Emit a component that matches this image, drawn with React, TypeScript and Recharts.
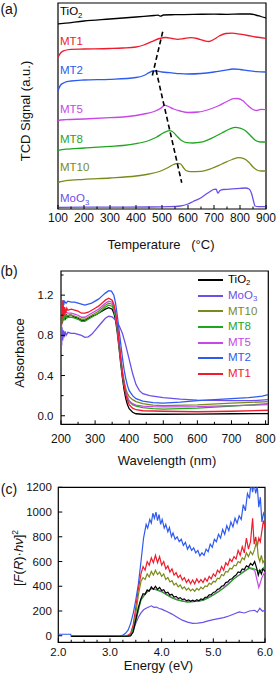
import React from "react";
import { LineChart, Line, XAxis, YAxis, ReferenceArea, ReferenceLine } from "recharts";

type Pt = [number, number];

const FONT = '"Liberation Sans", Arial, Helvetica, sans-serif';

const colors: Record<string, string> = {
  TiO2: "#000000",
  MoO3: "#6d4fe8",
  MT10: "#7b8a1c",
  MT8: "#1fa61f",
  MT5: "#c847e6",
  MT2: "#2e5af0",
  MT1: "#ef1b2d",
};

// ---- (a) TPR ----
const tprTicks = [100, 150, 200, 250, 300, 350, 400, 450, 500, 550, 600, 650, 700, 750, 800, 850, 900];
const tprLabels = [100, 200, 300, 400, 500, 600, 700, 800, 900];

const tprTiO2: Pt[] = [[100, 185], [130, 185.8], [200, 188], [300, 190], [400, 192], [470, 193.5], [485, 193.8], [495, 192.8], [505, 194], [550, 194.3], [620, 194.7], [700, 194.8], [750, 194.7], [800, 195], [840, 195], [860, 194], [880, 192.5], [900, 191]];
const tprMT1: Pt[] = [[100, 151.5], [110, 156], [125, 158.5], [150, 159.7], [200, 160], [300, 160.5], [350, 161], [400, 162], [430, 164], [460, 167.3], [490, 170.5], [515, 171.5], [540, 170.5], [560, 169.7], [585, 170.5], [610, 171.3], [635, 170.5], [660, 168.5], [680, 167.5], [700, 169.7], [720, 173], [745, 175.5], [770, 175.8], [800, 174.8], [830, 173.5], [860, 172], [900, 170.7]];
const tprMT2: Pt[] = [[100, 118.3], [110, 124], [125, 126.5], [150, 128], [200, 129], [300, 129.7], [400, 131.5], [430, 133.5], [450, 136.3], [465, 138], [480, 138], [500, 137], [530, 136.3], [570, 135.3], [600, 135], [650, 135.5], [700, 137], [740, 138.7], [775, 140], [800, 139.5], [830, 138.3], [865, 137.3], [900, 137]];
const tprMT5: Pt[] = [[100, 88], [110, 89], [130, 89.3], [200, 90], [300, 91.3], [350, 92], [400, 93.5], [440, 95.5], [470, 97.5], [495, 100.7], [510, 103.8], [520, 103], [545, 100], [570, 98], [600, 96.5], [640, 97], [680, 99.5], [715, 103], [750, 107.5], [775, 110.3], [790, 110.5], [810, 108.5], [830, 103.5], [850, 99.5], [865, 98.5], [880, 99.7], [900, 99.3]];
const tprMT8: Pt[] = [[100, 58.3], [110, 59.2], [130, 59.8], [200, 61], [300, 62.7], [350, 63.5], [400, 65.3], [450, 68.5], [480, 72], [505, 76], [528, 78.3], [540, 77.5], [555, 73.5], [575, 68.5], [595, 66.3], [620, 66], [650, 66.8], [690, 70.7], [730, 76], [760, 80], [782, 81.7], [800, 80.8], [820, 78.5], [840, 73.5], [860, 68.5], [880, 67], [900, 67]];
const tprMT10: Pt[] = [[100, 26.3], [110, 27.3], [130, 28.3], [200, 29.7], [300, 31], [400, 33], [450, 35], [490, 37.5], [520, 41], [545, 44.5], [560, 45.7], [572, 45], [582, 41.5], [592, 38.5], [610, 37.3], [650, 37.7], [690, 40.5], [730, 45], [770, 49.5], [795, 51.3], [815, 50.3], [835, 46.5], [850, 42], [865, 39], [880, 38], [900, 38]];
const tprMoO3: Pt[] = [[100, 1.7], [300, 1.9], [450, 2], [530, 2.3], [570, 3], [600, 5], [620, 7.5], [645, 10.5], [665, 14], [685, 17.5], [700, 19.7], [708, 19.8], [715, 15.8], [722, 18.2], [735, 19.5], [760, 19.8], [800, 20.6], [820, 21], [835, 20], [845, 15], [852, 8], [858, 3], [870, 2.3], [900, 2.3]];
const tprDashA: Pt[] = [[502.7, 177.3], [460.4, 130.7]];
const tprDashB: Pt[] = [[476.9, 139], [575.8, 26.3]];

// ---- (b) UV-vis ----
const wlTicks = [200, 250, 300, 350, 400, 450, 500, 550, 600, 650, 700, 750, 800];
const wlLabels = [200, 300, 400, 500, 600, 700, 800];
const absTicks = [0, 0.2, 0.4, 0.6, 0.8, 1.0, 1.2, 1.4];
const absLabels = [0, 0.4, 0.8, 1.2];

const wlTiO2: Pt[] = [[200, 0.88], [202, 1.05], [204, 0.92], [206, 1.0], [208, 0.95], [210, 1.02], [213, 0.97], [216, 1.0], [220, 0.98], [225, 1.0], [230, 1.0], [240, 0.98], [250, 0.97], [260, 0.95], [270, 0.95], [280, 0.97], [290, 0.99], [300, 1.0], [310, 1.02], [320, 1.04], [330, 1.06], [340, 1.075], [350, 1.06], [355, 1.02], [360, 0.95], [365, 0.83], [370, 0.68], [375, 0.52], [380, 0.38], [385, 0.26], [390, 0.17], [395, 0.11], [400, 0.07], [410, 0.035], [420, 0.02], [440, 0.015], [500, 0.015], [600, 0.017], [700, 0.02], [808, 0.022]];
const wlMoO3: Pt[] = [[200, 0.62], [201, 0.95], [202, 0.7], [203, 0.88], [205, 0.75], [207, 0.85], [209, 0.78], [212, 0.84], [215, 0.8], [220, 0.83], [230, 0.82], [240, 0.82], [250, 0.81], [260, 0.8], [270, 0.78], [280, 0.785], [290, 0.81], [300, 0.85], [310, 0.89], [320, 0.93], [330, 0.97], [340, 0.99], [350, 0.985], [360, 0.95], [370, 0.9], [380, 0.82], [390, 0.7], [400, 0.56], [410, 0.42], [420, 0.31], [430, 0.25], [440, 0.22], [460, 0.2], [500, 0.18], [550, 0.165], [600, 0.155], [700, 0.15], [760, 0.15], [808, 0.16]];
const wlMT10: Pt[] = [[200, 0.9], [202, 1.08], [204, 0.95], [206, 1.05], [209, 0.97], [212, 1.02], [216, 0.99], [220, 1.0], [230, 1.0], [240, 0.99], [250, 0.98], [260, 0.96], [270, 0.96], [280, 0.98], [290, 1.0], [300, 1.02], [310, 1.04], [320, 1.07], [330, 1.1], [340, 1.12], [350, 1.11], [355, 1.07], [360, 1.0], [365, 0.88], [370, 0.73], [375, 0.58], [380, 0.45], [385, 0.35], [390, 0.27], [395, 0.22], [400, 0.19], [410, 0.16], [420, 0.14], [440, 0.12], [470, 0.105], [500, 0.1], [600, 0.108], [700, 0.125], [808, 0.14]];
const wlMT8: Pt[] = [[200, 0.85], [202, 1.12], [204, 0.92], [206, 1.02], [209, 0.95], [212, 1.0], [216, 0.97], [220, 0.98], [230, 0.98], [240, 0.97], [250, 0.96], [260, 0.94], [270, 0.94], [280, 0.96], [290, 0.98], [300, 1.0], [310, 1.02], [320, 1.05], [330, 1.08], [340, 1.1], [350, 1.09], [355, 1.05], [360, 0.98], [365, 0.86], [370, 0.71], [375, 0.55], [380, 0.41], [385, 0.3], [390, 0.22], [395, 0.17], [400, 0.14], [410, 0.11], [420, 0.095], [440, 0.08], [470, 0.07], [500, 0.065], [600, 0.075], [700, 0.095], [808, 0.12]];
const wlMT5: Pt[] = [[200, 0.92], [202, 1.05], [205, 0.98], [208, 1.04], [212, 1.01], [216, 1.03], [220, 1.02], [230, 1.02], [240, 1.01], [250, 1.0], [260, 0.98], [270, 0.98], [280, 1.0], [290, 1.02], [300, 1.04], [310, 1.06], [320, 1.09], [330, 1.12], [340, 1.14], [350, 1.13], [355, 1.09], [360, 1.01], [365, 0.89], [370, 0.73], [375, 0.57], [380, 0.43], [385, 0.32], [390, 0.24], [395, 0.19], [400, 0.15], [410, 0.12], [420, 0.105], [440, 0.095], [470, 0.09], [500, 0.088], [600, 0.09], [700, 0.1], [808, 0.11]];
const wlMT2: Pt[] = [[200, 1.0], [202, 1.12], [204, 1.05], [206, 1.15], [208, 1.1], [210, 1.14], [215, 1.12], [220, 1.14], [230, 1.13], [240, 1.13], [250, 1.12], [260, 1.11], [270, 1.1], [280, 1.11], [290, 1.12], [300, 1.14], [310, 1.16], [320, 1.19], [330, 1.22], [340, 1.245], [348, 1.24], [355, 1.2], [360, 1.12], [365, 1.0], [370, 0.86], [375, 0.72], [380, 0.58], [385, 0.46], [390, 0.37], [395, 0.3], [400, 0.25], [410, 0.2], [420, 0.17], [440, 0.145], [470, 0.13], [500, 0.125], [550, 0.135], [600, 0.15], [650, 0.16], [700, 0.17], [750, 0.18], [790, 0.195], [808, 0.21]];
const wlMT1: Pt[] = [[200, 0.95], [201, 1.2], [202, 0.9], [203, 1.15], [205, 0.98], [207, 1.1], [209, 1.0], [211, 1.08], [214, 1.02], [217, 1.07], [220, 1.05], [230, 1.06], [240, 1.05], [250, 1.04], [260, 1.02], [270, 1.02], [280, 1.03], [290, 1.05], [300, 1.07], [310, 1.09], [320, 1.12], [330, 1.15], [340, 1.17], [350, 1.15], [355, 1.11], [360, 1.03], [365, 0.9], [370, 0.74], [375, 0.58], [380, 0.43], [385, 0.31], [390, 0.21], [395, 0.15], [400, 0.11], [410, 0.075], [420, 0.06], [440, 0.05], [500, 0.045], [600, 0.04], [700, 0.045], [808, 0.055]];

// ---- (c) Tauc ----
const eTicks = [2, 2.25, 2.5, 2.75, 3, 3.25, 3.5, 3.75, 4, 4.25, 4.5, 4.75, 5, 5.25, 5.5, 5.75, 6];
const eLabels = [2, 3, 4, 5, 6];
const kmTicks = [0, 200, 400, 600, 800, 1000, 1200];

const kmMT2: Pt[] = [[2, 12], [2.24, 12], [2.25, -5], [3, -5], [3.2, -3], [3.25, 5], [3.3, 20], [3.35, 45], [3.4, 100], [3.45, 180], [3.5, 290], [3.55, 420], [3.6, 600], [3.65, 790], [3.7, 900], [3.73, 870], [3.77, 940], [3.8, 910], [3.83, 990], [3.86, 950], [3.89, 1000], [3.92, 930], [3.95, 980], [3.98, 900], [4.01, 940], [4.05, 870], [4.08, 900], [4.12, 840], [4.15, 875], [4.19, 800], [4.22, 830], [4.26, 780], [4.3, 800], [4.34, 760], [4.38, 780], [4.42, 730], [4.46, 755], [4.5, 700], [4.54, 730], [4.58, 690], [4.62, 710], [4.66, 670], [4.7, 690], [4.74, 645], [4.78, 670], [4.82, 650], [4.86, 700], [4.9, 680], [4.94, 740], [4.98, 715], [5.02, 780], [5.06, 760], [5.1, 820], [5.14, 790], [5.18, 860], [5.22, 820], [5.26, 890], [5.3, 850], [5.34, 920], [5.38, 880], [5.42, 950], [5.46, 910], [5.5, 970], [5.54, 940], [5.58, 1060], [5.62, 1010], [5.66, 1150], [5.7, 1110], [5.73, 1240], [5.76, 1160], [5.79, 1230], [5.82, 1150], [5.85, 1210], [5.88, 1040], [5.91, 1120], [5.94, 920], [5.97, 990], [6, 960]];
const kmMT1: Pt[] = [[2.25, -5], [3, -5], [3.3, -3], [3.35, 5], [3.4, 20], [3.45, 90], [3.5, 230], [3.55, 380], [3.6, 500], [3.64, 560], [3.68, 530], [3.72, 600], [3.76, 570], [3.8, 630], [3.84, 590], [3.88, 650], [3.92, 590], [3.96, 640], [4.0, 570], [4.04, 600], [4.08, 540], [4.12, 565], [4.16, 515], [4.2, 540], [4.24, 490], [4.28, 510], [4.32, 470], [4.36, 490], [4.4, 450], [4.44, 470], [4.48, 430], [4.52, 455], [4.56, 420], [4.6, 450], [4.64, 420], [4.68, 460], [4.72, 430], [4.76, 455], [4.8, 430], [4.84, 465], [4.88, 440], [4.92, 480], [4.96, 460], [5.0, 500], [5.04, 480], [5.08, 530], [5.12, 510], [5.16, 560], [5.2, 530], [5.24, 590], [5.28, 570], [5.32, 620], [5.36, 600], [5.4, 640], [5.44, 620], [5.48, 690], [5.52, 650], [5.56, 720], [5.6, 670], [5.64, 790], [5.68, 700], [5.72, 760], [5.76, 950], [5.79, 740], [5.82, 800], [5.85, 720], [5.88, 790], [5.91, 760], [5.94, 850], [5.97, 930], [6, 880]];
const kmMT10: Pt[] = [[2.25, -5], [3, -5], [3.35, -3], [3.4, 5], [3.45, 50], [3.5, 180], [3.55, 330], [3.6, 440], [3.64, 470], [3.68, 455], [3.72, 500], [3.76, 475], [3.8, 520], [3.84, 490], [3.88, 530], [3.92, 495], [3.96, 515], [4.0, 480], [4.04, 500], [4.08, 455], [4.12, 470], [4.16, 435], [4.2, 445], [4.24, 410], [4.28, 425], [4.32, 395], [4.36, 410], [4.4, 380], [4.44, 395], [4.48, 370], [4.52, 385], [4.56, 362], [4.6, 378], [4.64, 360], [4.68, 382], [4.72, 368], [4.76, 392], [4.8, 378], [4.84, 402], [4.88, 398], [4.92, 425], [4.96, 415], [5.0, 440], [5.04, 435], [5.08, 465], [5.12, 460], [5.16, 495], [5.2, 485], [5.24, 520], [5.28, 515], [5.32, 545], [5.36, 540], [5.4, 570], [5.44, 565], [5.48, 600], [5.52, 590], [5.56, 630], [5.6, 615], [5.64, 670], [5.68, 640], [5.72, 680], [5.76, 655], [5.8, 700], [5.84, 770], [5.87, 640], [5.9, 600], [5.93, 650], [5.96, 590], [6, 620]];
const kmTiO2: Pt[] = [[2.25, -5], [3, -5], [3.35, -3], [3.4, 0], [3.45, 30], [3.5, 130], [3.55, 230], [3.6, 300], [3.64, 340], [3.68, 335], [3.72, 370], [3.76, 360], [3.8, 395], [3.84, 375], [3.88, 400], [3.92, 375], [3.96, 390], [4.0, 365], [4.04, 372], [4.08, 345], [4.12, 352], [4.16, 328], [4.2, 335], [4.24, 312], [4.28, 318], [4.32, 300], [4.36, 308], [4.4, 292], [4.44, 298], [4.48, 282], [4.52, 290], [4.56, 278], [4.6, 288], [4.64, 278], [4.68, 292], [4.72, 283], [4.76, 298], [4.8, 292], [4.84, 310], [4.88, 312], [4.92, 330], [4.96, 332], [5.0, 350], [5.04, 355], [5.08, 375], [5.12, 380], [5.16, 400], [5.2, 405], [5.24, 430], [5.28, 435], [5.32, 455], [5.36, 460], [5.4, 480], [5.44, 490], [5.48, 515], [5.52, 510], [5.56, 540], [5.6, 535], [5.64, 565], [5.68, 555], [5.72, 585], [5.76, 570], [5.8, 600], [5.84, 545], [5.87, 490], [5.9, 530], [5.93, 500], [5.96, 540], [6, 520]];
const kmMT8: Pt[] = [[2.25, -5], [3.3, -5], [3.4, 0], [3.5, 120], [3.6, 290], [3.7, 345], [3.8, 385], [3.9, 370], [4.0, 355], [4.1, 330], [4.2, 305], [4.3, 290], [4.4, 280], [4.5, 272], [4.6, 275], [4.7, 280], [4.8, 285], [4.9, 305], [5.0, 330], [5.1, 355], [5.2, 385], [5.3, 420], [5.4, 460], [5.5, 490], [5.6, 520], [5.7, 550], [5.8, 540], [5.9, 520], [6.0, 560]];
const kmMT5: Pt[] = [[2.25, -5], [3.3, -5], [3.4, 0], [3.5, 125], [3.6, 295], [3.7, 350], [3.8, 380], [3.9, 375], [4.0, 360], [4.1, 335], [4.2, 310], [4.3, 292], [4.4, 282], [4.5, 275], [4.6, 276], [4.7, 280], [4.8, 288], [4.9, 308], [5.0, 332], [5.1, 358], [5.2, 388], [5.3, 425], [5.4, 462], [5.5, 492], [5.6, 525], [5.7, 545], [5.8, 530], [5.88, 390], [5.94, 470], [6.0, 520]];
const kmMoO3: Pt[] = [[2.25, -5], [3.3, -5], [3.4, 5], [3.45, 40], [3.5, 100], [3.55, 150], [3.6, 185], [3.65, 210], [3.7, 222], [3.75, 232], [3.8, 242], [3.85, 230], [3.9, 232], [3.95, 220], [4.0, 215], [4.05, 205], [4.1, 196], [4.2, 175], [4.3, 150], [4.4, 126], [4.5, 110], [4.6, 100], [4.7, 102], [4.8, 108], [4.9, 120], [5.0, 130], [5.1, 138], [5.2, 146], [5.3, 160], [5.4, 176], [5.5, 192], [5.6, 184], [5.7, 200], [5.8, 206], [5.85, 190], [5.9, 222], [5.95, 198], [6.0, 206]];

const tprSeries = [
  { name: "TiO2", pts: tprTiO2 },
  { name: "MT1", pts: tprMT1 },
  { name: "MT2", pts: tprMT2 },
  { name: "MT5", pts: tprMT5 },
  { name: "MT8", pts: tprMT8 },
  { name: "MT10", pts: tprMT10 },
  { name: "MoO3", pts: tprMoO3 },
];
const wlSeries = [
  { name: "TiO2", pts: wlTiO2 },
  { name: "MoO3", pts: wlMoO3 },
  { name: "MT10", pts: wlMT10 },
  { name: "MT8", pts: wlMT8 },
  { name: "MT5", pts: wlMT5 },
  { name: "MT2", pts: wlMT2 },
  { name: "MT1", pts: wlMT1 },
];
const kmSeries = [
  { name: "MoO3", pts: kmMoO3 },
  { name: "MT2", pts: kmMT2 },
  { name: "MT1", pts: kmMT1 },
  { name: "MT10", pts: kmMT10 },
  { name: "MT5", pts: kmMT5 },
  { name: "MT8", pts: kmMT8 },
  { name: "TiO2", pts: kmTiO2 },
];

// label positions for panel (a), px from top of figure
const tprLabelTop: Record<string, number> = { TiO2: 11.5, MT1: 42, MT2: 70.5, MT5: 109.5, MT8: 139.5, MT10: 168, MoO3: 198.5 };

const rows = (pts: Pt[]) => pts.map(([x, y]) => ({ x, y }));

function Chem({ name }: { name: string }) {
  const m = name.match(/^(.*O)(\d)$/);
  if (!m) return <>{name}</>;
  return (
    <>
      {m[1]}
      <sub style={{ fontSize: "0.68em", verticalAlign: "-0.3em", lineHeight: 0 }}>{m[2]}</sub>
    </>
  );
}

function BottomTick(props: any) {
  const { x, y, payload, labels, fmt, gap, size } = props;
  const axisY = y - gap;
  const major = labels.includes(payload.value);
  return (
    <g>
      <line x1={x} x2={x} y1={axisY} y2={axisY - (major ? 4 : 2.5)} stroke="#000" strokeWidth={1} />
      {major && (
        <text x={x} y={y} dy="0.71em" textAnchor="middle" fontSize={size} fontFamily={FONT} fill="#111">
          {fmt(payload.value)}
        </text>
      )}
    </g>
  );
}

function LeftTick(props: any) {
  const { x, y, payload, labels, fmt, gap, size } = props;
  const axisX = x + gap;
  const major = labels.includes(payload.value);
  return (
    <g>
      <line x1={axisX} x2={axisX + (major ? 4 : 2.5)} y1={y} y2={y} stroke="#000" strokeWidth={1} />
      {major && (
        <text x={x} y={y} dy="0.35em" textAnchor="end" fontSize={size} fontFamily={FONT} fill="#111">
          {fmt(payload.value)}
        </text>
      )}
    </g>
  );
}

const abs: React.CSSProperties = { position: "absolute" };

function Title({ x, y, rotate, size = 13, children }: any) {
  return (
    <div
      style={{
        ...abs,
        left: x,
        top: y,
        transform: `translate(-50%,-50%)${rotate ? " rotate(-90deg)" : ""}`,
        whiteSpace: "pre",
        fontSize: size,
        lineHeight: 1,
        color: "#111",
      }}
    >
      {children}
    </div>
  );
}

export default function App() {
  return (
    <div style={{ ...abs, left: 0, top: 0, width: 276, height: 681, background: "#fff", overflow: "hidden", fontFamily: FONT }}>
      {/* (a) */}
      <div style={{ ...abs, left: 0, top: 0 }}>
        <LineChart width={276} height={232} margin={{ top: 3, right: 10, left: 58, bottom: 3 }}>
          <XAxis type="number" dataKey="x" domain={[100, 900]} ticks={tprTicks} interval={0} allowDataOverflow
            axisLine={false} tickLine={false} tickSize={0} tickMargin={4} height={20}
            tick={(p: any) => <BottomTick {...p} labels={tprLabels} fmt={(v: number) => String(v)} gap={4} size={12} />} />
          <YAxis type="number" dataKey="y" domain={[0, 206]} hide allowDataOverflow />
          <ReferenceArea x1={100} x2={900} y1={0} y2={206} fill="none" stroke="#000" strokeWidth={1.2} />
          {tprSeries.map((s) => (
            <Line key={s.name} data={rows(s.pts)} dataKey="y" type="monotone" stroke={colors[s.name]}
              strokeWidth={1.3} dot={false} isAnimationActive={false} />
          ))}
          {[tprDashA, tprDashB].map((seg, i) => (
            <ReferenceLine key={i} segment={[{ x: seg[0][0], y: seg[0][1] }, { x: seg[1][0], y: seg[1][1] }]}
              stroke="#000" strokeWidth={1.6} strokeDasharray="5 3" />
          ))}
        </LineChart>
      </div>
      {tprSeries.map((s) => (
        <div key={s.name} style={{ ...abs, left: 60, top: tprLabelTop[s.name], transform: "translateY(-50%)", fontSize: 11.5, lineHeight: 1, color: colors[s.name] }}>
          <Chem name={s.name} />
        </div>
      ))}
      <Title x={9} y={9} size={14}>(a)</Title>
      <Title x={25} y={111} rotate>TCD Signal (a.u.)</Title>
      <Title x={161} y={244}>{"Temperature   (°C)"}</Title>

      {/* (b) */}
      <div style={{ ...abs, left: 0, top: 250 }}>
        <LineChart width={276} height={195} margin={{ top: 21, right: 7.7, left: 0, bottom: 2.7 }}>
          <XAxis type="number" dataKey="x" domain={[200, 808]} ticks={wlTicks} interval={0} allowDataOverflow
            axisLine={false} tickLine={false} tickSize={0} tickMargin={10} height={18}
            tick={(p: any) => <BottomTick {...p} labels={wlLabels} fmt={(v: number) => String(v)} gap={10} size={12} />} />
          <YAxis type="number" dataKey="y" domain={[-0.085, 1.44]} ticks={absTicks} interval={0} allowDataOverflow width={61}
            axisLine={false} tickLine={false} tickSize={0} tickMargin={7.5}
            tick={(p: any) => <LeftTick {...p} labels={absLabels} fmt={(v: number) => v.toFixed(1)} gap={7.5} size={11.5} />} />
          <ReferenceArea x1={200} x2={808} y1={-0.085} y2={1.44} fill="none" stroke="#000" strokeWidth={1.2} />
          {wlSeries.map((s) => (
            <Line key={s.name} data={rows(s.pts)} dataKey="y" type="linear" stroke={colors[s.name]}
              strokeWidth={1.3} dot={false} isAnimationActive={false} />
          ))}
        </LineChart>
      </div>
      <div style={{ ...abs, left: 198, top: 272.2 }}>
        {wlSeries.map((s) => (
          <div key={s.name} style={{ display: "flex", alignItems: "center", height: 15.65 }}>
            <div style={{ width: 25, height: 2, background: colors[s.name], marginRight: 5 }} />
            <span style={{ fontSize: 11.5, lineHeight: 1, color: colors[s.name] }}>
              <Chem name={s.name} />
            </span>
          </div>
        ))}
      </div>
      <Title x={9} y={271} size={14}>(b)</Title>
      <Title x={18.5} y={353} rotate>Absorbance</Title>
      <Title x={167} y={460}>Wavelength (nm)</Title>

      {/* (c) */}
      <div style={{ ...abs, left: 0, top: 470 }}>
        <LineChart width={276} height={200} margin={{ top: 17.3, right: 11, left: 0, bottom: 7.7 }}>
          <XAxis type="number" dataKey="x" domain={[2, 6]} ticks={eTicks} interval={0} allowDataOverflow
            axisLine={false} tickLine={false} tickSize={0} tickMargin={5.5} height={20}
            tick={(p: any) => <BottomTick {...p} labels={eLabels} fmt={(v: number) => v.toFixed(1)} gap={5.5} size={11.5} />} />
          <YAxis type="number" dataKey="y" domain={[-53, 1200]} ticks={kmTicks} interval={0} allowDataOverflow width={58.3}
            axisLine={false} tickLine={false} tickSize={0} tickMargin={6.5}
            tick={(p: any) => <LeftTick {...p} labels={kmTicks} fmt={(v: number) => String(v)} gap={6.5} size={11.5} />} />
          <ReferenceArea x1={2} x2={6} y1={-53} y2={1200} fill="none" stroke="#000" strokeWidth={1.2} />
          {kmSeries.map((s) => (
            <Line key={s.name} data={rows(s.pts)} dataKey="y" type="linear" stroke={colors[s.name]}
              strokeWidth={1.2} dot={false} isAnimationActive={false} />
          ))}
        </LineChart>
      </div>
      <Title x={9} y={489} size={14}>(c)</Title>
      <Title x={18} y={558} rotate>
        [<i>F</i>(<i>R</i>)·<i>hν</i>]<sup style={{ fontSize: "0.65em", verticalAlign: "0.5em", lineHeight: 0 }}>2</sup>
      </Title>
      <Title x={158.5} y={664.5}>Energy (eV)</Title>
    </div>
  );
}
